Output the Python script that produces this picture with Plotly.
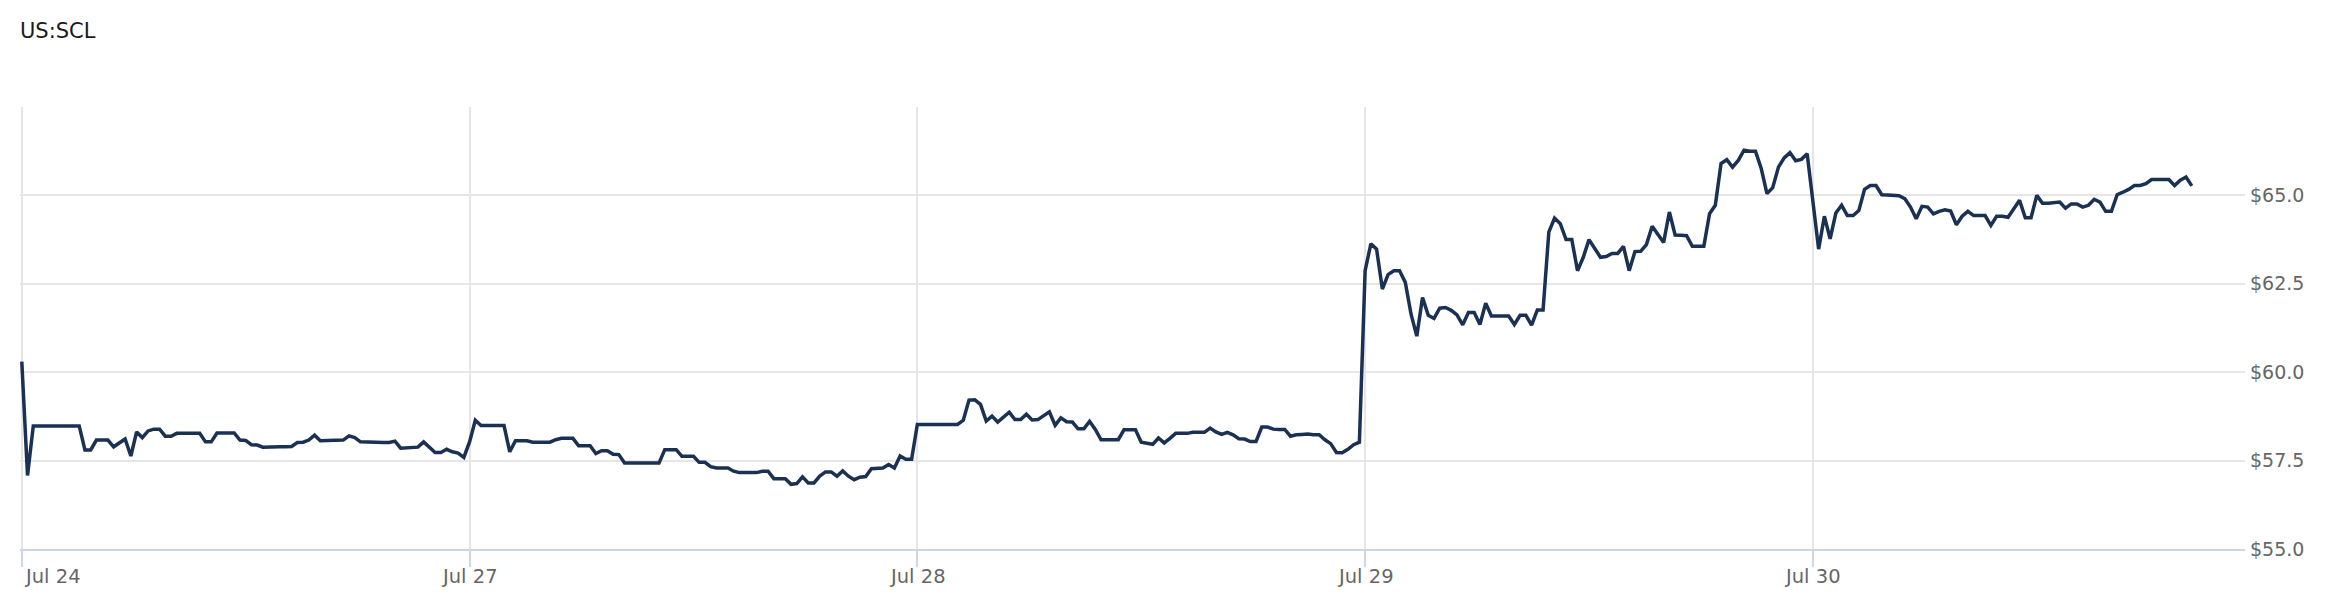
import plotly.graph_objects as go

title = "US:SCL"
day_labels = ["Jul 24", "Jul 27", "Jul 28", "Jul 29", "Jul 30"]
bars_per_day = 78          # 5-minute bars in a trading session
first_bar = [0, 0, 0, 0, 1]  # Jul 30 has no 9:30 bar

price_ticks = [55, 57.5, 60, 62.5, 65, 67.5]
price_labels = ["$55.0", "$57.5", "$60.0", "$62.5", "$65.0", ""]

jul24 = [60.30, 57.08, 58.48, 58.48, 58.48, 58.48, 58.48, 58.48, 58.48, 58.48,
         58.48, 57.80, 57.80, 58.08, 58.08, 58.08, 57.89, 58.00, 58.11, 57.63,
         58.31, 58.15, 58.34, 58.39, 58.39, 58.19, 58.19, 58.27, 58.27, 58.27,
         58.27, 58.27, 58.03, 58.03, 58.28, 58.28, 58.28, 58.28, 58.08, 58.07,
         57.95, 57.94, 57.88, 57.89, 57.89, 57.89, 57.89, 57.90, 58.01, 58.02,
         58.08, 58.22, 58.06, 58.06, 58.06, 58.08, 58.08, 58.20, 58.15, 58.03,
         58.02, 58.01, 58.01, 58.01, 58.01, 58.05, 57.85, 57.86, 57.87, 57.88,
         58.03, 57.87, 57.73, 57.73, 57.82, 57.75, 57.71, 57.59]

jul27 = [58.03, 58.64, 58.49, 58.49, 58.49, 58.49, 58.49, 57.75, 58.06, 58.06,
         58.06, 58.02, 58.02, 58.02, 58.02, 58.09, 58.13, 58.13, 58.13, 57.92,
         57.92, 57.92, 57.70, 57.78, 57.78, 57.68, 57.67, 57.43, 57.43, 57.43,
         57.43, 57.43, 57.45, 57.43, 57.81, 57.81, 57.81, 57.62, 57.62, 57.62,
         57.45, 57.45, 57.33, 57.29, 57.29, 57.29, 57.20, 57.16, 57.16, 57.16,
         57.16, 57.20, 57.20, 56.99, 56.99, 56.99, 56.83, 56.85, 57.04, 56.87,
         56.87, 57.06, 57.18, 57.18, 57.06, 57.21, 57.06, 56.96, 57.03, 57.05,
         57.27, 57.29, 57.29, 57.39, 57.29, 57.63, 57.54, 57.54]

jul28 = [58.52, 58.52, 58.52, 58.52, 58.52, 58.52, 58.52, 58.52, 58.64, 59.21,
         59.22, 59.09, 58.62, 58.76, 58.59, 58.74, 58.87, 58.66, 58.66, 58.81,
         58.65, 58.66, 58.78, 58.88, 58.50, 58.71, 58.60, 58.59, 58.40, 58.40,
         58.61, 58.38, 58.09, 58.09, 58.09, 58.09, 58.37, 58.37, 58.37, 58.02,
         57.99, 57.96, 58.14, 58.00, 58.13, 58.27, 58.27, 58.27, 58.30, 58.30,
         58.30, 58.42, 58.31, 58.24, 58.30, 58.23, 58.12, 58.11, 58.04, 58.04,
         58.45, 58.45, 58.39, 58.38, 58.38, 58.19, 58.23, 58.24, 58.25, 58.23,
         58.23, 58.09, 57.98, 57.73, 57.72, 57.82, 57.95, 58.02]

jul29 = [62.87, 63.63, 63.48, 62.35, 62.76, 62.87, 62.87, 62.54, 61.64, 61.02,
         62.11, 61.61, 61.52, 61.81, 61.83, 61.75, 61.62, 61.34, 61.69, 61.69,
         61.35, 61.95, 61.59, 61.59, 61.59, 61.59, 61.35, 61.61, 61.61, 61.33,
         61.76, 61.76, 63.96, 64.36, 64.20, 63.75, 63.75, 62.87, 63.25, 63.75,
         63.50, 63.25, 63.27, 63.36, 63.36, 63.56, 62.87, 63.41, 63.42, 63.61,
         64.13, 63.89, 63.67, 64.53, 63.88, 63.87, 63.86, 63.56, 63.56, 63.56,
         64.48, 64.72, 65.90, 66.01, 65.80, 65.99, 66.28, 66.25, 66.25, 65.76,
         65.05, 65.22, 65.80, 66.06, 66.21, 65.98, 66.02, 66.18]

jul30 = [63.48, 64.41, 63.77, 64.50, 64.72, 64.43, 64.43, 64.57, 65.17, 65.28,
         65.28, 65.02, 65.01, 65.01, 64.99, 64.91, 64.67, 64.34, 64.69, 64.67,
         64.48, 64.55, 64.59, 64.56, 64.17, 64.41, 64.55, 64.43, 64.43, 64.43,
         64.15, 64.41, 64.41, 64.38, 64.62, 64.86, 64.37, 64.37, 65.00, 64.78,
         64.78, 64.79, 64.81, 64.64, 64.76, 64.76, 64.67, 64.72, 64.89, 64.81,
         64.55, 64.55, 65.02, 65.09, 65.17, 65.28, 65.28, 65.33, 65.45, 65.45,
         65.45, 65.45, 65.28, 65.43, 65.52, 65.27]

days = [jul24, jul27, jul28, jul29, jul30]

# ordinal axis: each session gets the same width, overnight gaps removed
x, y = [], []
for d, prices in enumerate(days):
    for i, p in enumerate(prices):
        x.append(d + (first_bar[d] + i) / bars_per_day)
        y.append(p)

font = "DejaVu Sans"

# page body has an 8px margin, so the figure is a bit smaller than the window
W, H = 2320, 598

fig = go.Figure()
fig.add_trace(go.Scatter(x=x, y=y, mode="lines",
                         line=dict(color="#1b3153", width=3.5),
                         hoverinfo="skip"))

for d, lab in enumerate(day_labels):
    fig.add_annotation(x=d, y=0, xref="x", yref="paper", yshift=-27,
                       text=lab, showarrow=False,
                       xanchor="left" if d == 0 else "center", yanchor="middle",
                       font=dict(family=font, size=19.5, color="#666666"))

fig.update_layout(
    width=W, height=H,
    margin=dict(l=12, r=83, t=99, b=57),
    paper_bgcolor="white", plot_bgcolor="white",
    showlegend=False,
    title=dict(text=title, xref="container", yref="container",
               x=12 / W, xanchor="left", y=1 - 23 / H, yanchor="middle",
               font=dict(family=font, size=21, color="#1a1a1a")),
    xaxis=dict(range=[-0.004, 4.965], tickvals=list(range(len(day_labels))),
               showticklabels=False, ticks="outside", ticklen=16,
               tickcolor="#ccd6eb", tickwidth=2,
               showgrid=True, gridcolor="#e6e6e6", gridwidth=1.5,
               showline=True, linecolor="#ccd6eb", linewidth=2,
               zeroline=False),
    yaxis=dict(side="right", range=[55, 67.5], tickvals=price_ticks,
               ticktext=price_labels, ticks="", ticklen=0, ticklabelstandoff=4,
               showgrid=True, gridcolor="#e6e6e6", gridwidth=1.5,
               showline=False, zeroline=False,
               tickfont=dict(family=font, size=19, color="#666666")),
)

fig.write_html("out.html")
